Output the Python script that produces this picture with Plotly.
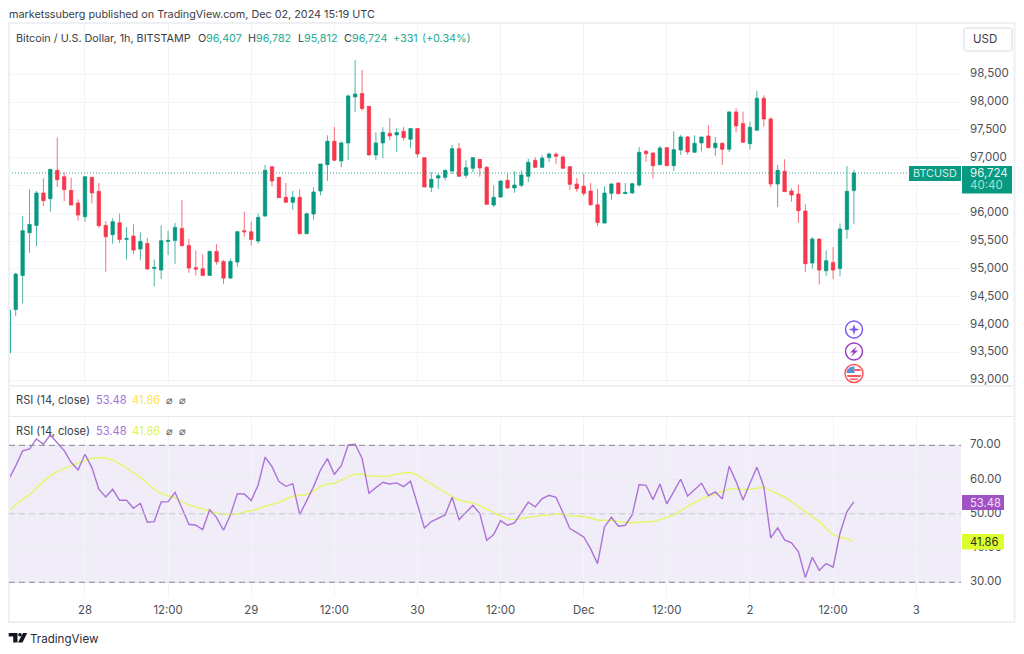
import plotly.graph_objects as go
import pandas as pd

# --- Values ---
START_TIME = "2024-11-27 13:00"

OPENS = [
    93490, 94270, 94882, 95650, 95782, 96364, 96262, 96772, 96658, 96412,
    96184, 95938, 96646, 96394, 95782, 95614, 95830, 95530, 95590, 95356,
    95458, 95008, 94978, 95494, 95512, 95728, 95422, 95020, 95002, 94882,
    95314, 95134, 94834, 95122, 95686, 95668, 95500, 95950, 96838, 96646,
    96286, 96196, 96286, 95632, 95986, 96400, 96874, 97294, 96940, 97264,
    98092, 98152, 97924, 97048, 97264, 97438, 97408, 97474, 97330, 97522,
    97000, 96466, 96634, 96646, 96760, 97162, 96682, 96808, 96970, 96826,
    96148, 96292, 96592, 96454, 96502, 96664, 96952, 96826, 97000, 97060,
    97012, 96838, 96526, 96484, 96400, 96154, 95824, 96358, 96544, 96352,
    96364, 96508, 97114, 97084, 96874, 97180, 96856, 97138, 97372, 97096,
    97264, 97390, 97180, 97258, 97150, 97822, 97612, 97252, 97492, 98068,
    97696, 96526, 96754, 96400, 96346, 96040, 95104, 95536, 94966, 95116,
    95008, 95710, 96407,
]
HIGHS = [
    94258, 94930, 95950, 96430, 96400, 96628, 96790, 97360, 96736, 96640,
    96250, 96658, 96646, 96544, 95860, 95908, 95998, 95752, 95800, 95656,
    95554, 95170, 95782, 95686, 95824, 96238, 95542, 95332, 95266, 95332,
    95446, 95158, 95188, 95686, 96028, 95848, 95998, 96868, 96838, 96646,
    96544, 96400, 96430, 96010, 96466, 96886, 97402, 97552, 97294, 98134,
    98752, 98578, 97924, 97456, 97546, 97714, 97534, 97552, 97534, 97534,
    97000, 96742, 96718, 96784, 97228, 97264, 96952, 97012, 96970, 96850,
    96502, 96592, 96712, 96754, 96772, 96982, 97006, 97042, 97090, 97096,
    97042, 96850, 96634, 96712, 96544, 96436, 96484, 96538, 96556, 96544,
    96544, 97192, 97138, 97096, 97210, 97192, 97474, 97408, 97390, 97402,
    97372, 97582, 97372, 97276, 97834, 97888, 97828, 97648, 98200, 98122,
    97726, 96868, 96970, 96448, 96514, 96160, 95572, 95548, 95332, 95392,
    95818, 96850, 96782,
]
LOWS = [
    93490, 94150, 94378, 95290, 95410, 96130, 96028, 96472, 96220, 96148,
    95866, 95848, 96178, 95740, 94948, 95452, 95464, 95170, 95266, 95158,
    94984, 94684, 94816, 95248, 95092, 95416, 94930, 94882, 94870, 94882,
    95074, 94732, 94828, 95038, 95578, 95416, 95452, 95938, 96484, 96280,
    96196, 96064, 95632, 95626, 95884, 96322, 96580, 96940, 96826, 96958,
    97816, 97846, 97036, 96958, 96988, 97312, 97102, 97312, 97174, 97000,
    96472, 96382, 96436, 96598, 96706, 96658, 96628, 96742, 96658, 96154,
    96112, 96280, 96442, 96370, 96466, 96562, 96814, 96814, 96922, 96886,
    96802, 96418, 96388, 96316, 96130, 95770, 95818, 96238, 96340, 96352,
    96352, 96478, 96922, 96628, 96862, 96856, 96760, 97048, 97054, 97084,
    97114, 97168, 97030, 96868, 97102, 97456, 97264, 97144, 97486, 97558,
    96466, 96112, 96382, 96208, 95830, 94942, 95002, 94720, 94876, 94816,
    94864, 95542, 95812,
]
CLOSES = [
    94258, 94906, 95686, 95800, 96364, 96226, 96790, 96604, 96424, 96148,
    95968, 96658, 96364, 95776, 95578, 95848, 95530, 95548, 95338, 95494,
    94996, 95026, 95506, 95512, 95746, 95416, 95014, 94996, 94882, 95314,
    95128, 94834, 95134, 95668, 95668, 95530, 95926, 96772, 96580, 96280,
    96196, 96286, 95632, 95992, 96382, 96886, 97294, 96952, 97264, 98110,
    98146, 97882, 97048, 97264, 97456, 97390, 97450, 97360, 97522, 97066,
    96472, 96610, 96676, 96772, 97162, 96664, 96820, 97000, 96814, 96160,
    96286, 96580, 96454, 96508, 96688, 96916, 96826, 96994, 97066, 97024,
    96808, 96520, 96442, 96358, 96154, 95836, 96364, 96526, 96352, 96376,
    96532, 97096, 97072, 96856, 97174, 96856, 97144, 97372, 97102, 97258,
    97372, 97180, 97258, 97150, 97822, 97570, 97276, 97546, 98068, 97696,
    96526, 96772, 96388, 96328, 96046, 95092, 95536, 94978, 95146, 94978,
    95716, 96394, 96724,
]
RSI = [
    60.08, 63.97, 68.35, 68.93, 71.85, 70.29, 73.02, 70.78, 68.44, 65.04,
    62.80, 67.37, 63.48, 57.16, 54.92, 57.16, 53.95, 53.95, 51.61, 53.07,
    47.52, 47.72, 53.46, 53.56, 56.28, 51.61, 46.94, 46.65, 45.38, 51.22,
    48.89, 45.19, 49.66, 55.89, 55.79, 53.85, 58.42, 66.50, 63.77, 59.39,
    58.03, 58.81, 49.76, 53.75, 57.93, 62.80, 66.11, 61.53, 64.06, 70.10,
    70.29, 66.21, 55.99, 57.64, 59.20, 58.71, 59.01, 57.93, 59.49, 52.78,
    45.87, 47.72, 48.59, 49.66, 54.82, 48.30, 50.35, 52.49, 50.05, 42.27,
    43.92, 48.01, 46.65, 47.33, 50.35, 53.36, 52.00, 54.43, 55.41, 54.82,
    50.35, 45.68, 44.51, 43.24, 39.74, 35.46, 46.16, 48.98, 46.36, 46.65,
    49.66, 58.52, 58.32, 54.14, 58.71, 52.88, 56.47, 60.08, 55.21, 57.16,
    58.91, 55.31, 56.38, 54.33, 63.87, 59.39, 54.04, 58.91, 63.58, 57.93,
    42.95, 45.87, 42.37, 41.49, 38.86, 31.37, 37.31, 33.51, 35.46, 34.39,
    44.31, 50.64, 53.48,
]
RSI_MA = [
    50.93, 52.58, 54.24, 55.60, 57.64, 59.39, 61.05, 62.31, 63.19, 64.06,
    64.75, 65.62, 66.21, 66.40, 66.30, 65.72, 64.55, 63.48, 62.02, 60.66,
    58.91, 57.16, 55.99, 55.21, 54.82, 53.56, 52.58, 51.90, 51.32, 50.73,
    50.25, 49.86, 49.76, 49.96, 50.54, 50.93, 51.32, 52.19, 52.68, 53.26,
    54.24, 55.11, 55.41, 55.70, 56.57, 57.93, 58.71, 58.91, 59.69, 60.85,
    61.53, 61.53, 61.05, 60.85, 60.85, 60.95, 61.63, 61.92, 62.02, 61.34,
    59.88, 58.71, 57.45, 56.18, 55.02, 53.95, 53.56, 53.17, 52.39, 51.32,
    50.25, 49.37, 48.59, 48.30, 48.59, 48.98, 49.28, 49.57, 49.66, 49.96,
    49.86, 49.37, 49.28, 49.18, 48.79, 48.11, 48.11, 48.11, 47.72, 47.43,
    47.33, 47.52, 47.72, 47.72, 48.30, 48.98, 49.66, 50.93, 52.10, 53.36,
    54.43, 55.02, 55.79, 56.67, 57.25, 57.25, 57.06, 57.16, 57.45, 57.74,
    56.77, 55.79, 54.82, 53.56, 52.10, 50.44, 48.98, 47.72, 45.77, 43.92,
    43.15, 42.66, 41.86,
]

TIME_TICKS = [
    "2024-11-28 00:00", "2024-11-28 12:00", "2024-11-29 00:00", "2024-11-29 12:00",
    "2024-11-30 00:00", "2024-11-30 12:00", "2024-12-01 00:00", "2024-12-01 12:00",
    "2024-12-02 00:00", "2024-12-02 12:00", "2024-12-03 00:00",
]
TIME_LABELS = ["28", "12:00", "29", "12:00", "30", "12:00", "Dec", "12:00", "2", "12:00", "3"]
PRICE_TICKS = [93000, 93500, 94000, 94500, 95000, 95500, 96000, 96500, 97000, 97500, 98000, 98500]
RSI_TICKS = [30, 40, 50, 60, 70]
RSI_DASHED = [30, 50, 70]
LAST_PRICE = 96724

# --- Colours ---
UP = "#089981"
DOWN = "#f7374b"
GRID = "#f3f4f7"
FRAME = "#eff0f4"
TEXT = "#3a3d47"
AXIS_TEXT = "#4c4f59"
UP_TEXT = "#26ab92"
PURPLE = "#ad72d8"
YELLOW = "#e4f76b"
FONT = "Inter"
TEXT_SIZE = 10.8

WIDTH, HEIGHT = 1024, 654


def fx(px):
    return px / WIDTH


def fy(py):
    return 1 - py / HEIGHT


def texte(x, y, text, size=TEXT_SIZE, color=TEXT, anchor="left", **kwargs):
    """Annotation placed by pixel position of the page."""
    return dict(
        x=fx(x), y=fy(y), xref="paper", yref="paper", text=text, showarrow=False,
        xanchor=anchor, yanchor="middle", borderpad=0, borderwidth=0,
        font=dict(family=FONT, size=size, color=color), **kwargs,
    )


def rect(x0, y0, x1, y1, fill=None, line=None, width=1):
    return dict(
        type="rect", xref="paper", yref="paper", x0=fx(x0), x1=fx(x1), y0=fy(y0), y1=fy(y1),
        fillcolor=fill or "rgba(0,0,0,0)", line=dict(color=line or "rgba(0,0,0,0)", width=width if line else 0),
    )


def rond(cx, cy, r, fill, line, width=1.5):
    return dict(
        type="circle", xref="paper", yref="paper", x0=fx(cx - r), x1=fx(cx + r),
        y0=fy(cy + r), y1=fy(cy - r), fillcolor=fill, line=dict(color=line, width=width),
    )


def trace_path(points, fill):
    """Closed polygon given in page pixels."""
    d = "M" + " L".join(f"{fx(x):.5f},{fy(y):.5f}" for x, y in points) + " Z"
    return dict(type="path", xref="paper", yref="paper", path=d, fillcolor=fill, line=dict(width=0))


times = pd.date_range(START_TIME, periods=len(CLOSES), freq="h")

fig = go.Figure()

# 1. Candles
fig.add_trace(go.Candlestick(
    x=times, open=OPENS, high=HIGHS, low=LOWS, close=CLOSES,
    increasing=dict(line=dict(color="rgba(8,153,129,0.72)", width=1), fillcolor=UP),
    decreasing=dict(line=dict(color="rgba(247,55,75,0.72)", width=1), fillcolor=DOWN),
    whiskerwidth=0, xaxis="x", yaxis="y", showlegend=False,
))

# 2. RSI and its moving average
fig.add_trace(go.Scatter(
    x=times, y=RSI_MA, mode="lines", line=dict(color=YELLOW, width=1.5),
    xaxis="x3", yaxis="y3", showlegend=False,
))
fig.add_trace(go.Scatter(
    x=times, y=RSI, mode="lines", line=dict(color=PURPLE, width=1.4),
    xaxis="x3", yaxis="y3", showlegend=False,
))

common_x = dict(
    domain=[fx(9), fx(961)], range=["2024-11-27 13:02", "2024-12-03 06:28"], type="date",
    tickvals=TIME_TICKS, showgrid=True, gridcolor=GRID, gridwidth=1, zeroline=False,
    showline=False, ticks="",
)

shapes = [
    # RSI band
    dict(type="rect", xref="x3 domain", yref="y3", x0=0, x1=1, y0=30, y1=70,
         fillcolor="rgba(126,87,194,0.11)", line=dict(width=0), layer="below"),
    # Last price line
    dict(type="line", xref="x domain", yref="y", x0=0, x1=1, y0=LAST_PRICE, y1=LAST_PRICE,
         line=dict(color="rgba(8,153,129,0.85)", width=1, dash="1px,2px")),
    # Frame and pane separators
    rect(9, 23, 1014.5, 622, line=FRAME, width=2),
    rect(9, 385, 1014, 387, fill=FRAME),
    rect(9, 416, 1014, 417, fill="#e8e9f0"),
    # Price tags
    rect(909, 166, 961, 181, fill=UP),
    rect(962, 166, 1012, 193.5, fill=UP),
    # RSI tags
    rect(962, 495, 1004, 510, fill="#a052c4"),
    rect(962, 534, 1004, 549.5, fill="#dcff2e"),
    # USD button
    dict(type="path", xref="paper", yref="paper", fillcolor="white",
         line=dict(color="#e6e8ee", width=1.5),
         path=(f"M{fx(967):.5f},{fy(28):.5f} L{fx(1009):.5f},{fy(28):.5f} Q{fx(1012):.5f},{fy(28):.5f} {fx(1012):.5f},{fy(31):.5f} "
               f"L{fx(1012):.5f},{fy(48):.5f} Q{fx(1012):.5f},{fy(51):.5f} {fx(1009):.5f},{fy(51):.5f} "
               f"L{fx(967):.5f},{fy(51):.5f} Q{fx(964):.5f},{fy(51):.5f} {fx(964):.5f},{fy(48):.5f} "
               f"L{fx(964):.5f},{fy(31):.5f} Q{fx(964):.5f},{fy(28):.5f} {fx(967):.5f},{fy(28):.5f} Z")),
    # Event icons
    rond(854, 329.5, 8.5, "white", "#7f5cf5"),
    trace_path([(854, 324), (855.3, 328.2), (859.5, 329.5), (855.3, 330.8), (854, 335), (852.7, 330.8), (848.5, 329.5), (852.7, 328.2)], "#7f5cf5"),
    rond(854, 351.5, 8.5, "white", "#9c3fc0"),
    trace_path([(857, 346), (850, 352.5), (853.5, 352.5), (851, 357), (858, 350.5), (854.5, 350.5)], "#9c3fc0"),
    rond(854, 373.5, 9, "white", "#f7585f"),
    trace_path([(846.5, 373), (847.5, 369.5), (850.5, 367), (854.5, 366.5), (854.5, 373)], "#5b8fd6"),
    trace_path([(854.5, 369), (860, 369), (861, 371), (854.5, 371)], "#f7585f"),
    trace_path([(847, 375), (861, 375), (860.5, 377), (847.5, 377)], "#f7585f"),
    trace_path([(849, 378.5), (859, 378.5), (857, 380), (851, 380)], "#f7585f"),
    # TradingView logo
    trace_path([(8.7, 633), (17.5, 633), (17.5, 642.5), (13.2, 642.5), (13.2, 636.5), (8.7, 636.5)], "#131722"),
    rond(20, 634.8, 1.8, "#131722", "#131722", 0),
    trace_path([(23, 633), (27.2, 633), (22.5, 642.5), (18, 642.5)], "#131722"),
]

# Dashed RSI levels, the middle one is paler
for level in RSI_DASHED:
    couleur = "#c9c7cf" if level == 50 else "#85848f"
    shapes.append(dict(type="line", xref="x3 domain", yref="y3", x0=0, x1=1, y0=level, y1=level,
                       line=dict(color=couleur, width=1, dash="6px,4px")))

rsi_legend = []
for y, second in ((400, "#ffe34d"), (431, "#dcf45a")):
    rsi_legend += [
        texte(16, y, "RSI (14, close)", size=11.1),
        texte(95.5, y, "53.48", size=11.1, color="#a272d6"),
        texte(131.5, y, "41.86", size=11.1, color=second),
        texte(165.5, y, "⌀", size=11, color="#555"),
        texte(179, y, "⌀", size=11, color="#555"),
    ]

annotations = [
    texte(9, 14, "marketssuberg published on TradingView.com, Dec 02, 2024 15:19 UTC"),
    texte(16, 38.5, "Bitcoin / U.S. Dollar, 1h, BITSTAMP"),
    texte(197.5, 38.5, "O"), texte(205.5, 38.5, "96,407", color=UP_TEXT),
    texte(247.5, 38.5, "H"), texte(255.5, 38.5, "96,782", color=UP_TEXT),
    texte(297.5, 38.5, "L"), texte(304, 38.5, "95,812", color=UP_TEXT),
    texte(344, 38.5, "C"), texte(352, 38.5, "96,724", color=UP_TEXT),
    texte(393, 38.5, "+331", color=UP_TEXT), texte(422, 38.5, "(+0.34%)", color=UP_TEXT),
    texte(973, 39.5, "USD", size=11.5),
    texte(935, 173.5, "BTCUSD", size=10.8, color="#cfeee7", anchor="center"),
    texte(969.5, 173, "96,724", size=11.5, color="#e6f7f3"),
    texte(969.5, 185, "40:40", size=11.5, color="#a9e0d4"),
    texte(969.5, 502.5, "53.48", size=11.2, color="#f0e0f8"),
    texte(969.5, 542, "41.86", size=11.2, color="#2a2e20"),
    texte(30, 639, "TradingView", size=11.6, color="#2a2e39"),
] + rsi_legend

fig.update_layout(
    width=WIDTH,
    height=HEIGHT,
    margin=dict(l=0, r=0, t=0, b=0, pad=0, autoexpand=False),
    paper_bgcolor="white",
    plot_bgcolor="rgba(0,0,0,0)",
    showlegend=False,
    font=dict(family=FONT, size=TEXT_SIZE, color=AXIS_TEXT),
    xaxis=dict(common_x, anchor="y", showticklabels=False, rangeslider=dict(visible=False)),
    xaxis2=dict(common_x, anchor="y2", showticklabels=False),
    xaxis3=dict(common_x, anchor="y3", showticklabels=True, ticktext=TIME_LABELS, ticklabelstandoff=5,
                tickfont=dict(family=FONT, size=11.4, color=AXIS_TEXT)),
    yaxis=dict(
        domain=[fy(386), fy(24)], range=[92894, 99403], side="right", anchor="x",
        tickvals=PRICE_TICKS, tickformat=",d", ticks="", ticklabelstandoff=8, ticklabelshift=-1,
        showgrid=True, gridcolor=GRID, zeroline=False, showline=False,
        tickfont=dict(family=FONT, size=11.5, color=AXIS_TEXT),
    ),
    yaxis2=dict(domain=[fy(416), fy(386)], anchor="x2", showticklabels=False, showgrid=False, zeroline=False),
    yaxis3=dict(
        domain=[fy(597), fy(417)], range=[25.7, 78.26], side="right", anchor="x3",
        tickvals=RSI_TICKS, tickformat=".2f", ticks="", ticklabelstandoff=8, ticklabelshift=-1,
        showgrid=True, gridcolor="#eceaf3", zeroline=False, showline=False,
        tickfont=dict(family=FONT, size=11.5, color=AXIS_TEXT),
    ),
    shapes=shapes,
    annotations=annotations,
)

fig.write_html("out.html", config={"displayModeBar": False}, post_script="document.body.style.margin='0';")
